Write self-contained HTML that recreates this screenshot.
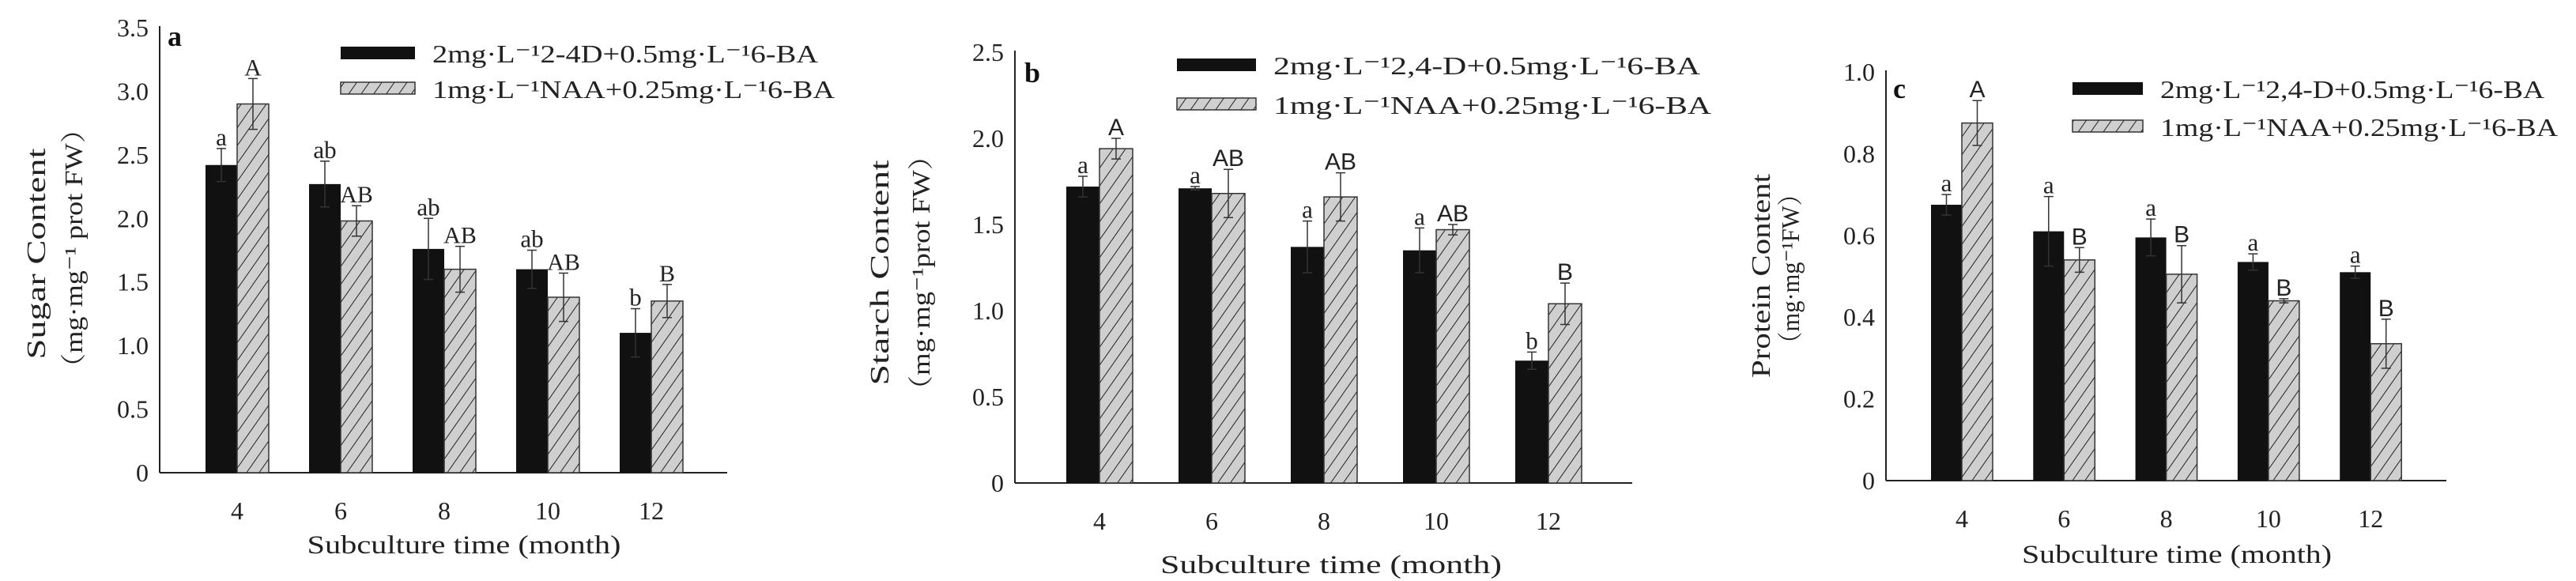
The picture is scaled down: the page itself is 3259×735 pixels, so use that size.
<!DOCTYPE html>
<html><head><meta charset="utf-8">
<style>
html,body{margin:0;padding:0;background:#fff;}
svg{display:block;font-family:"Liberation Serif","Noto Serif CJK SC",serif;}
</style></head>
<body>
<svg id="chart" width="3259" height="735" viewBox="0 0 3259 735" xmlns="http://www.w3.org/2000/svg">
<defs>
<pattern id="hatch" patternUnits="userSpaceOnUse" width="13" height="13" patternTransform="rotate(35)">
<rect width="13" height="13" fill="#cfcfcf"/>
<line x1="0" y1="0" x2="0" y2="13" stroke="#222" stroke-width="2"/>
</pattern>
</defs>
</svg>
<script>
const categories = ["4","6","8","10","12"];
const sugarA = [2.42,2.27,1.76,1.60,1.10];
const sugarAErr = [0.13,0.18,0.24,0.15,0.19];
const sugarB = [2.90,1.98,1.60,1.38,1.35];
const sugarBErr = [0.20,0.12,0.18,0.19,0.13];
const sugarLetA = ["a","ab","ab","ab","b"];
const sugarLetB = ["A","AB","AB","AB","B"];
const sugarTicks = ["0","0.5","1.0","1.5","2.0","2.5","3.0","3.5"];
const starchA = [1.72,1.71,1.37,1.35,0.71];
const starchAErr = [0.06,0.01,0.15,0.13,0.05];
const starchB = [1.94,1.68,1.66,1.47,1.04];
const starchBErr = [0.06,0.14,0.14,0.03,0.12];
const starchLetA = ["a","a","a","a","b"];
const starchLetB = ["A","AB","AB","AB","B"];
const starchTicks = ["0","0.5","1.0","1.5","2.0","2.5"];
const proteinA = [0.675,0.61,0.595,0.535,0.51];
const proteinAErr = [0.025,0.085,0.045,0.02,0.015];
const proteinB = [0.875,0.54,0.505,0.44,0.335];
const proteinBErr = [0.055,0.03,0.07,0.005,0.06];
const proteinLetA = ["a","a","a","a","a"];
const proteinLetB = ["A","B","B","B","B"];
const proteinTicks = ["0","0.2","0.4","0.6","0.8","1.0"];

const svg = document.getElementById('chart');
const NS = "http://www.w3.org/2000/svg";
function mk(tag, attrs, parent, text){
  const e = document.createElementNS(NS, tag);
  for (const k in attrs) e.setAttribute(k, attrs[k]);
  if (text !== undefined) e.textContent = text;
  (parent||svg).appendChild(e);
  return e;
}

const panels = [
 {id:"a", ax:202, y0:598, yTop:35, xEnd:920, max:3.5, x0:300, step:131, bw:40,
  A:sugarA, Ae:sugarAErr, B:sugarB, Be:sugarBErr, LA:sugarLetA, LB:sugarLetB, ticks:sugarTicks,
  title1:"Sugar Content", title2:"（mg·mg⁻¹ prot FW）", t1x:45, t2x:92, t1cy:321, t1len:267, t2cy:314, t2len:338,
  leg1:"2mg·L⁻¹2-4D+0.5mg·L⁻¹6-BA", leg2:"1mg·L⁻¹NAA+0.25mg·L⁻¹6-BA", l1len:488, l2len:509,
  lx:431, lw:94, ly1:59, ly2:104, tickY:657, xlabY:700, xlabC:587, xlabLen:397, capsSans:false, labX:212, labY:58},
 {id:"b", ax:1284, y0:611, yTop:66, xEnd:2065, max:2.5, x0:1391, step:142, bw:42,
  A:starchA, Ae:starchAErr, B:starchB, Be:starchBErr, LA:starchLetA, LB:starchLetB, ticks:starchTicks,
  title1:"Starch Content", title2:"（mg·mg⁻¹prot FW）", t1x:1112, t2x:1164, t1cy:345, t1len:285, t2cy:345, t2len:333,
  leg1:"2mg·L⁻¹2,4-D+0.5mg·L⁻¹6-BA", leg2:"1mg·L⁻¹NAA+0.25mg·L⁻¹6-BA", l1len:540, l2len:554,
  lx:1489, lw:100, ly1:74, ly2:124, tickY:670, xlabY:725, xlabC:1684, xlabLen:432, capsSans:true, labX:1296, labY:104},
 {id:"c", ax:2386, y0:608, yTop:91, xEnd:3095, max:1.0, x0:2482, step:129.3, bw:39,
  A:proteinA, Ae:proteinAErr, B:proteinB, Be:proteinBErr, LA:proteinLetA, LB:proteinLetB, ticks:proteinTicks,
  title1:"Protein Content", title2:"（mg·mg⁻¹FW）", t1x:2227, t2x:2264, t1cy:349, t1len:258, t2cy:340, t2len:220,
  leg1:"2mg·L⁻¹2,4-D+0.5mg·L⁻¹6-BA", leg2:"1mg·L⁻¹NAA+0.25mg·L⁻¹6-BA", l1len:486, l2len:503,
  lx:2622, lw:89, ly1:104, ly2:152, tickY:667, xlabY:712, xlabC:2754, xlabLen:392, capsSans:true, labX:2395, labY:124}
];

panels.forEach(p => {
  const g = mk('g', {});
  
  
  const y = v => p.y0 - v / p.max * (p.y0 - p.yTop);
  const xc = i => p.x0 + i * p.step;
  const ya = mk('line', {x1:p.ax, y1:p.yTop-2, x2:p.ax, y2:p.y0, stroke:'#222', 'stroke-width':2}, g);
  
  
  const xa = mk('line', {x1:p.ax, y1:p.y0, x2:p.xEnd, y2:p.y0, stroke:'#222', 'stroke-width':2}, g);
  
  
  const maxT = parseFloat(p.ticks[p.ticks.length-1]);
  p.ticks.forEach(t => {
    const ty = p.y0 - parseFloat(t) / maxT * (p.y0 - p.yTop);
    const tl = mk('text', {x:p.ax-14, y:ty+11, 'text-anchor':'end', 'font-size':32, fill:'#222'}, g, t);
    
    
  });
  categories.forEach((c, i) => {
    const cx = xc(i);
    const ba = mk('rect', {x:cx-p.bw, y:y(p.A[i]), width:p.bw, height:p.y0-y(p.A[i]), fill:'#111'}, g);
    
    
    const bb = mk('rect', {x:cx, y:y(p.B[i]), width:p.bw, height:p.y0-y(p.B[i]), fill:'url(#hatch)', stroke:'#333', 'stroke-width':1.5}, g);
    
    
    [[cx-p.bw/2, p.A[i], p.Ae[i]], [cx+p.bw/2, p.B[i], p.Be[i]]].forEach(([ex, v, e]) => {
      const eb = mk('path', {d:`M${ex},${y(v-e)}V${y(v+e)}M${ex-6},${y(v+e)}H${ex+6}M${ex-6},${y(v-e)}H${ex+6}`, stroke:'#333', 'stroke-width':1.5, fill:'none'}, g);
      
      
    });
    const la = mk('text', {x:cx-p.bw/2, y:y(p.A[i]+p.Ae[i])-4, 'text-anchor':'middle', 'font-size':31, fill:'#222'}, g, p.LA[i]);
    
    
    const lb = mk('text', {x:cx+p.bw/2, y:y(p.B[i]+p.Be[i])-4, 'text-anchor':'middle', 'font-size':30, fill:'#222',
      'font-family': p.capsSans ? '"Liberation Sans",sans-serif' : '"Liberation Serif",serif'}, g, p.LB[i]);
    
    
    const xt = mk('text', {x:cx, y:p.tickY, 'text-anchor':'middle', 'font-size':32, fill:'#222'}, g, c);
    
    
  });
  const xl = mk('text', {x:p.xlabC - p.xlabLen/2, y:p.xlabY, 'font-size':33, fill:'#222', textLength:p.xlabLen, lengthAdjust:'spacingAndGlyphs'}, g, 'Subculture time (month)');
  
  
  const y1 = mk('text', {x:-p.t1len/2, y:0, transform:`translate(${p.t1x+12},${p.t1cy}) rotate(-90)`, 'font-size':34, fill:'#222', textLength:p.t1len, lengthAdjust:'spacingAndGlyphs'}, g, p.title1);
  
  
  const y2 = mk('text', {x:-p.t2len/2, y:0, transform:`translate(${p.t2x+12},${p.t2cy}) rotate(-90)`, 'font-size':32, fill:'#222', textLength:p.t2len, lengthAdjust:'spacingAndGlyphs'}, g, p.title2);
  
  
  const pl = mk('text', {x:p.labX, y:p.labY, 'font-size':36, 'font-weight':'bold', fill:'#111'}, g, p.id);
  
  
  const r1 = mk('rect', {x:p.lx, y:p.ly1, width:p.lw, height:16, fill:'#111'}, g);
  
  
  const t1 = mk('text', {x:p.lx+p.lw+22, y:p.ly1+20, 'font-size':32, fill:'#222', textLength:p.l1len, lengthAdjust:'spacingAndGlyphs'}, g, p.leg1);
  
  
  const r2 = mk('rect', {x:p.lx, y:p.ly2, width:p.lw, height:15, fill:'url(#hatch)', stroke:'#333', 'stroke-width':1.5}, g);
  
  
  const t2 = mk('text', {x:p.lx+p.lw+22, y:p.ly2+20, 'font-size':32, fill:'#222', textLength:p.l2len, lengthAdjust:'spacingAndGlyphs'}, g, p.leg2);
  
  
});
</script>
</body></html>
